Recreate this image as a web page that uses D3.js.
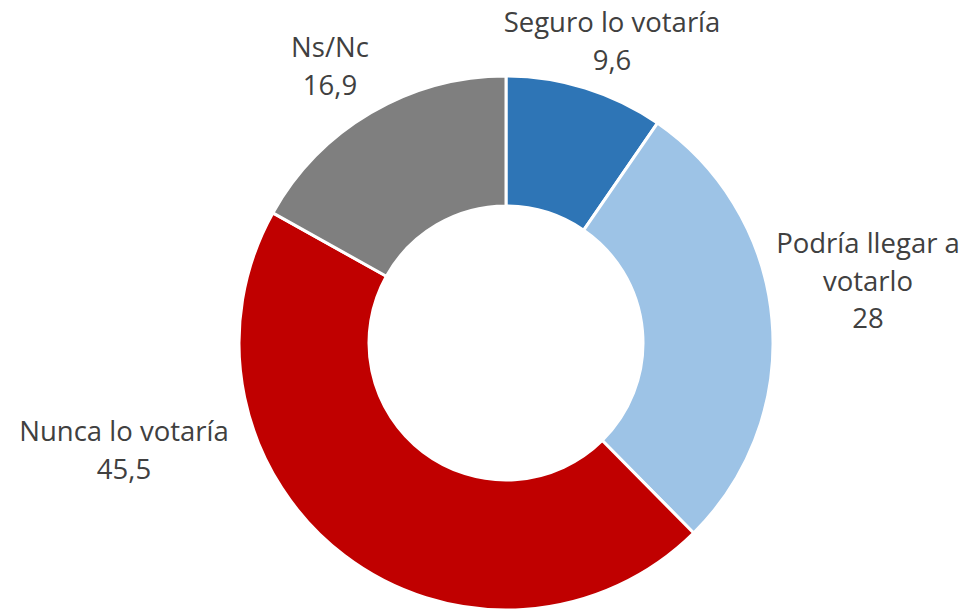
<!DOCTYPE html>
<html>
<head>
<meta charset="utf-8">
<script src="https://cdn.jsdelivr.net/npm/d3@7"></script>
<style>
  body { margin: 0; background: #fff; }
  svg text { font-family: "Open Sans", "Lato", sans-serif; fill: #404040; }
</style>
</head>
<body>
<svg width="963" height="609"></svg>
<script>
var width = 963,
    height = 609;

var categories = ["Seguro lo votaría", "Podría llegar a votarlo", "Nunca lo votaría", "Ns/Nc"];
var values = [9.6, 28, 45.5, 16.9];
var valueLabels = ["9,6", "28", "45,5", "16,9"];
var colors = ["#2E75B6", "#9DC3E6", "#C00000", "#7F7F7F"];
// label lines as they wrap in the chart
var labelLines = [["Seguro lo votaría"], ["Podría llegar a", "votarlo"], ["Nunca lo votaría"], ["Ns/Nc"]];

var cx = 506, cy = 343,
    outerR = 267, innerR = 137;

var svg = d3.select("svg");

var pie = d3.pie().sort(null).value(function(d) { return d; });
var arc = d3.arc().innerRadius(innerR).outerRadius(outerR);

var g = svg.append("g").attr("transform", "translate(" + cx + "," + cy + ")");

g.selectAll("path")
  .data(pie(values))
  .enter().append("path")
  .attr("d", arc)
  .attr("fill", function(d, i) { return colors[i]; })
  .attr("stroke", "#fff")
  .attr("stroke-width", 3)
  .attr("stroke-linejoin", "round");

// label anchor positions (centre of first line baseline), by slice
var labelPos = [[612, 32], [868, 253], [124, 441], [330, 57]];
var lineH = 37.5;

labelLines.forEach(function(lines, i) {
  var t = svg.append("text")
    .attr("text-anchor", "middle")
    .attr("font-size", 27.5);
  lines.concat([valueLabels[i]]).forEach(function(s, k) {
    t.append("tspan")
      .attr("x", labelPos[i][0])
      .attr("y", labelPos[i][1] + k * lineH)
      .text(s);
  });
});
</script>
</body>
</html>
